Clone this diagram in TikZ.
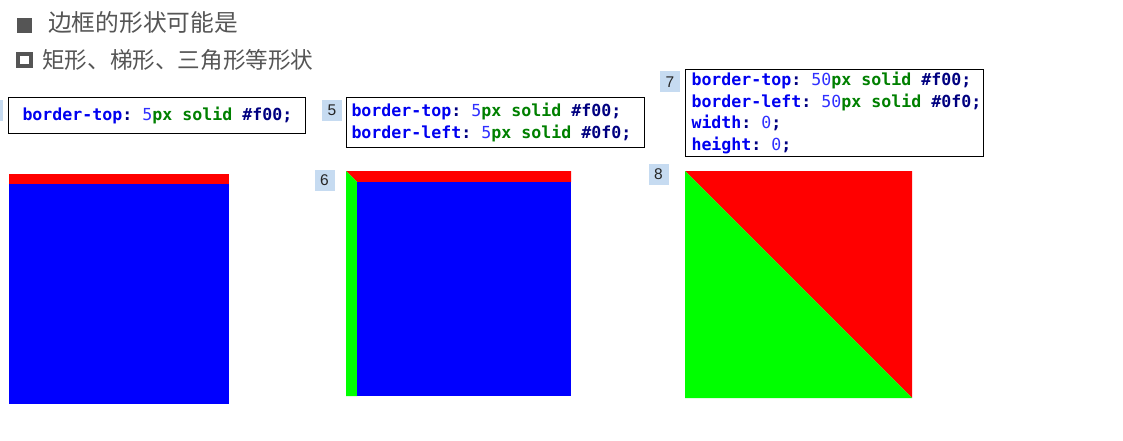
\documentclass[tikz,border=0pt]{standalone}
\usepackage{fontspec}
\usepackage{xcolor}
\setmainfont{Liberation Sans}
\setmonofont{DejaVu Sans Mono}
\newfontfamily\cjk{Noto Sans CJK SC}
\usetikzlibrary{positioning}
\definecolor{headgray}{HTML}{555555}
\definecolor{badgeblue}{HTML}{C6DBF1}
\definecolor{propblue}{HTML}{0000F0}
\definecolor{numblue}{HTML}{3030FF}
\definecolor{kwgreen}{HTML}{008000}
\definecolor{hexnavy}{HTML}{000080}
\definecolor{cssred}{HTML}{FF0000}
\definecolor{cssgreen}{HTML}{00FF00}
\definecolor{cssblue}{HTML}{0000FF}
\newcommand{\codefont}{\ttfamily\fontsize{16.6}{21.5}\selectfont}
\newcommand{\csp}{\kern0.602em\relax}
\newcommand{\cprop}[1]{\textcolor{propblue}{\bfseries #1}\textcolor{hexnavy}{\bfseries :}\csp}
\newcommand{\cnum}[1]{\textcolor{numblue}{#1}}
\newcommand{\ckw}[1]{\textcolor{kwgreen}{\bfseries #1}}
\newcommand{\chex}[1]{\textcolor{hexnavy}{\bfseries #1}}
\newcommand{\csemi}{\textcolor{hexnavy}{\bfseries ;}}

\begin{document}
\begin{tikzpicture}[x=1pt, y=-1pt,
  heading/.style={font=\cjk\fontsize{23.7}{26}\selectfont, text=headgray,
    anchor=west, inner sep=0pt},
  codebox/.style={draw=black, line width=1pt, anchor=north west, align=left,
    font=\codefont, inner xsep=5pt, inner ysep=0pt, text width=288pt},
  badge/.style={fill=badgeblue, minimum width=20pt, minimum height=21pt,
    inner sep=0pt, font=\fontsize{15.5}{15.5}\selectfont, text=black!85},
]
\useasboundingbox (0,0) rectangle (1123,441);

% headings
\node[fill=headgray, minimum size=15pt, inner sep=0pt] (bul1) at (24.5,25.5) {};
\node[heading] (h1) at (48,23) {边框的形状可能是};
\node[draw=headgray, line width=4pt, minimum size=12.5pt, inner sep=0pt] (bul2) at (24.5,60) {};
\node[heading, font=\cjk\fontsize{22.6}{26}\selectfont] (h2) at (42,60) {矩形、梯形、三角形等形状};

% code boxes
\node[badge] (b4) at (-7,110.5) {};
\node[codebox, inner xsep=14pt, text width=269pt, minimum height=36pt] (box1) at (8,97)
  {\cprop{border-top}\cnum{5}\ckw{px}\csp\ckw{solid}\csp\chex{\#f00}\csemi};

\node[badge] (b5) at (332,110.5) {5};
\node[codebox, minimum height=50pt] (box2) at (346,97)
  {\cprop{border-top}\cnum{5}\ckw{px}\csp\ckw{solid}\csp\chex{\#f00}\csemi\\
   \cprop{border-left}\cnum{5}\ckw{px}\csp\ckw{solid}\csp\chex{\#0f0}\csemi};

\node[badge] (b7) at (670,82) {7};
\node[codebox, inner xsep=6pt, text width=286pt, minimum height=87pt] (box3) at (685,69)
  {\cprop{border-top}\cnum{50}\ckw{px}\csp\ckw{solid}\csp\chex{\#f00}\csemi\\
   \cprop{border-left}\cnum{50}\ckw{px}\csp\ckw{solid}\csp\chex{\#0f0}\csemi\\
   \cprop{width}\cnum{0}\csemi\\
   \cprop{height}\cnum{0}\csemi};

% rendered boxes
\fill[cssred] (9,174) rectangle (229,184);
\fill[cssblue] (9,184) rectangle (229,404);

\node[badge] (b6) at (324.5,180) {6};
\fill[cssred] (346,171) -- (571,171) -- (571,182) -- (357,182) -- cycle;
\fill[cssgreen] (346,171) -- (357,182) -- (357,396) -- (346,396) -- cycle;
\fill[cssblue] (357,182) rectangle (571,396);

\node[badge] (b8) at (658.5,174) {8};
\fill[cssred] (685,171) -- (912,171) -- (912,398) -- cycle;
\fill[cssgreen] (685,171) -- (912,398) -- (685,398) -- cycle;

\end{tikzpicture}
\end{document}
